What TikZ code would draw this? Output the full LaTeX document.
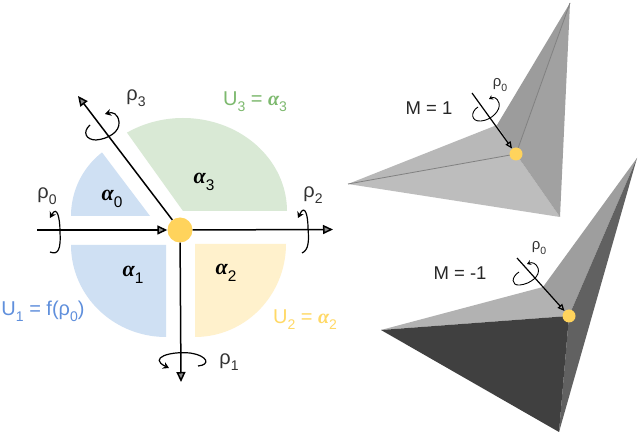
\documentclass[tikz,border=0pt]{standalone}
\usepackage{fontspec}
\setmainfont{Liberation Sans}
\newfontfamily\serifalpha{Liberation Serif}
\usetikzlibrary{arrows.meta}
\newcommand{\lowsub}[1]{\raisebox{-0.3em}{\fontsize{\the\dimexpr.7em\relax}{14}\selectfont #1}}
\newcommand{\galpha}{{\serifalpha\bfseries\itshape α}}
\definecolor{sblue}{HTML}{CFE0F3}
\definecolor{sgreen}{HTML}{D9E9D5}
\definecolor{syellow}{HTML}{FFF1CC}
\definecolor{tblue}{HTML}{5F8FDC}
\definecolor{tgreen}{HTML}{7DB96E}
\definecolor{tyellow}{HTML}{FFD966}
\definecolor{hubc}{HTML}{FFD35C}
\tikzset{
  axisline/.style={line width=1.5pt,black,-{Triangle[length=10pt,width=9pt,fill=black!45]}},
  twist/.style={line width=1.2pt,black,-{Stealth[length=6pt,width=7pt]}},
  hubdot/.style={circle,fill=hubc,inner sep=0pt,minimum size=#1},
  rlabel/.style={font=\fontsize{20}{22}\selectfont,text=black!80,inner sep=0pt},
  smalllabel/.style={font=\fontsize{15}{17}\selectfont,text=black!80,inner sep=0pt},
  alabel/.style={font=\fontsize{22}{24}\selectfont,inner sep=0pt},
  mlabel/.style={font=\fontsize{18.5}{20}\selectfont,text=black!85,inner sep=0pt},
  ulabel/.style={font=\fontsize{20}{22}\selectfont,inner sep=0pt},
}
\begin{document}
\begin{tikzpicture}[x=1pt,y=-1pt]
\useasboundingbox (0,0) rectangle (640,435);
\fill[white] (0,0) rectangle (640,435);

% sectors
\fill[sblue] (150,216) -- plot[domain=180:127.4,samples=40,smooth] ({150+79*cos(\x)},{216-80*sin(\x)}) -- cycle;
\fill[sgreen] (183,211) -- plot[domain=0:122.6,samples=50,smooth] ({183+104*cos(\x)},{211-93*sin(\x)}) -- cycle;
\fill[sblue] (166,245) -- plot[domain=180:270,samples=40,smooth] ({166+95*cos(\x)},{245-92*sin(\x)}) -- cycle;
\fill[syellow] (195,244) -- plot[domain=270:360,samples=40,smooth] ({195+91*cos(\x)},{244-93*sin(\x)}) -- cycle;

% hub and free axis ends
\node[hubdot=25pt] (hub) at (180,230) {};
\coordinate (a0) at (37,230);
\coordinate (a1) at (181,382);
\coordinate (a2) at (333,229.5);
\coordinate (a3) at (78,96);

% axes
\draw[axisline] (a0) -- (hub.west);
\draw[axisline] (hub) -- (a1);
\draw[axisline] (hub) -- (a2);
\draw[axisline] (hub) -- (a3);

% twists
\draw[twist] (50,252) .. controls (58,255) and (61,250) .. (60,232) .. controls (60,218) and (57,205) .. (50,218);
\draw[twist] (302,253) .. controls (309,250) and (309,240) .. (308,228) .. controls (308,216) and (305,203) .. (298,218);
\draw[twist] (198,366) .. controls (210,365) and (209,356) .. (190,353) .. controls (170,351) and (148,358) .. (169,368);
\draw[twist] (90,125) .. controls (82,132) and (86,140) .. (96,140) .. controls (108,139) and (120,132) .. (119,122) .. controls (118,113) and (112,112) .. (105,114);

% labels left
\node[rlabel] (r0) at (47,196) {ρ\lowsub{0}};
\node[rlabel] (r1) at (229,362) {ρ\lowsub{1}};
\node[rlabel] (r2) at (313,195) {ρ\lowsub{2}};
\node[rlabel] (r3) at (136,98) {ρ\lowsub{3}};
\node[alabel] (l0) at (112,199) {\galpha\lowsub{0}};
\node[alabel] (l1) at (133,275) {\galpha\lowsub{1}};
\node[alabel] (l2) at (226,273) {\galpha\lowsub{2}};
\node[alabel] (l3) at (204,182) {\galpha\lowsub{3}};
\node[ulabel,text=tgreen] (u3) at (255,102) {U\lowsub{3} = \galpha\lowsub{3}};
\node[ulabel,text=tyellow] (u2) at (305,320) {U\lowsub{2} = \galpha\lowsub{2}};
\node[ulabel,text=tblue] (u1) at (43,311) {U\lowsub{1} = f(ρ\lowsub{0})};

% upper polyhedron
\fill[black!28] (348,184) -- (497,125) -- (516,154) -- cycle;
\fill[black!26] (348,184) -- (516,154) -- (560,217) -- cycle;
\fill[black!39] (570,3) -- (497,125) -- (516,154) -- cycle;
\fill[black!37] (570,3) -- (516,154) -- (560,217) -- cycle;
\draw[black!50,line width=.8pt] (348,184) -- (516,154) -- (570,3);
\node[hubdot=13pt] (hubA) at (516,154) {};
\coordinate (sA) at (472,93);
\draw[line width=1.2pt,-{Triangle[length=7pt,width=6pt,fill=black!35]}] (sA) -- (hubA);
\draw[line width=.9pt,-{Stealth[length=4pt,width=5pt]}] (478,107) .. controls (470,112) and (471,122) .. (481,121) .. controls (492,120) and (501,110) .. (499,103) .. controls (497,97) and (493,97) .. (489,99);
\node[smalllabel] (rA) at (500,85) {ρ\lowsub{0}};
\node[mlabel] (mA) at (429,108) {M = 1};

% lower polyhedron
\fill[black!30] (381,330) -- (543,287) -- (569,316) -- cycle;
\fill[black!38] (543,287) -- (637,158) -- (569,316) -- cycle;
\fill[black!62] (637,158) -- (569,316) -- (559,432) -- cycle;
\fill[black!75] (381,330) -- (569,316) -- (559,432) -- cycle;
\node[hubdot=13pt] (hubB) at (569,316) {};
\coordinate (sB) at (517,258);
\draw[line width=1.2pt,-{Triangle[length=7pt,width=6pt,fill=black!35]}] (sB) -- (hubB);
\draw[line width=.9pt,-{Stealth[length=4pt,width=5pt]}] (519,272) .. controls (511,277) and (511,286) .. (520,285) .. controls (530,284) and (541,276) .. (538,268) .. controls (536,263) and (532,262) .. (527,264);
\node[smalllabel] (rB) at (539,248) {ρ\lowsub{0}};
\node[mlabel] (mB) at (460,273) {M = -1};
\end{tikzpicture}
\end{document}
